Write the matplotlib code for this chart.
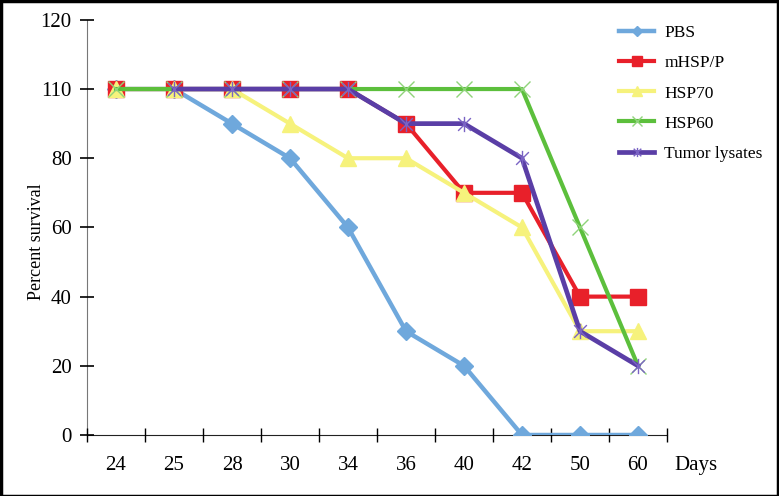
import matplotlib
matplotlib.use("Agg")
import matplotlib.pyplot as plt
import numpy as np
from matplotlib.path import Path
from matplotlib.patches import Rectangle

plt.rcParams['font.family'] = ['Liberation Serif', 'DejaVu Serif']

days = ['24', '25', '28', '30', '34', '36', '40', '42', '50', '60']
pbs = [100, 100, 90, 80, 60, 30, 20, 0, 0, 0]
mhsp = [100, 100, 100, 100, 100, 90, 70, 70, 40, 40]
hsp70 = [100, 100, 100, 90, 80, 80, 70, 60, 30, 30]
hsp60 = [100, 100, 100, 100, 100, 100, 100, 100, 60, 20]
tumor = [np.nan, 100, 100, 100, 100, 90, 90, 80, 30, 20]
ytick_vals = [0, 20, 40, 60, 80, 100, 120]
ytick_labels = ['0', '20', '40', '60', '80', '110', '120']

# excel style star marker: x plus a vertical bar
star = Path([(-1, -1), (1, 1), (-1, 1), (1, -1), (0, -1.2), (0, 1.2)],
            [Path.MOVETO, Path.LINETO, Path.MOVETO, Path.LINETO, Path.MOVETO, Path.LINETO])

fig = plt.figure(figsize=(7.79, 4.96), dpi=100)
ax = fig.add_axes([0.1117, 0.123, 0.7445, 0.837])
x = np.arange(len(days))

ax.plot(x, pbs, color='#6fa8dc', lw=3.2, marker='D', ms=9, label='PBS')
ax.plot(x, mhsp, color='#e8202a', lw=3, marker='s', ms=11, label='mHSP/P')
ax.plot(x, hsp70, color='#f6f27c', lw=3, marker='^', ms=11, label='HSP70')
ax.plot(x, hsp60, color='#5cbf3c', lw=3, marker='x', ms=11, mew=1, mec='#8fd37a', label='HSP60')
ax.plot(x, tumor, color='#5a3ea6', lw=3.4, marker=star, ms=11, mew=1, mec='#7a63c4', label='Tumor lysates')

ax.set_xlim(-0.5, len(days) - 0.5)
ax.set_ylim(0, 120)
ax.set_xticks(x)
ax.set_xticklabels(days, fontsize=15)
ax.set_xticks(np.arange(-0.5, len(days)), minor=True)
ax.tick_params(axis='x', which='major', length=0, pad=15)
ax.tick_params(axis='x', which='minor', direction='inout', length=10, width=1, color='black')
ax.set_yticks(ytick_vals)
ax.set_yticklabels(ytick_labels, fontsize=15)
ax.tick_params(axis='y', direction='inout', length=10, width=1.2, pad=6)
ax.spines['top'].set_visible(False)
ax.spines['right'].set_visible(False)
ax.spines['left'].set_color('#777777')
ax.spines['bottom'].set_color('#222222')
ax.set_ylabel('Percent survival', fontsize=13)
ax.yaxis.set_label_coords(-0.072, 0.465)
ax.text(1.05, -0.0735, 'Days', transform=ax.transAxes, fontsize=15, ha='center', va='center')
for sp in ax.spines.values():
    sp.set_zorder(0)

leg = ax.legend(loc='upper left', bbox_to_anchor=(0.786, 0.963), bbox_transform=fig.transFigure,
                frameon=False, fontsize=12.5, handlelength=2.0, labelspacing=0.8,
                markerscale=0.6, borderaxespad=0, handletextpad=0.6)

fig.add_artist(Rectangle((0.001, 0.001), 0.998, 0.997, transform=fig.transFigure,
                         fill=False, lw=2.5, edgecolor='black'))
fig.savefig('out.png', dpi=100)
